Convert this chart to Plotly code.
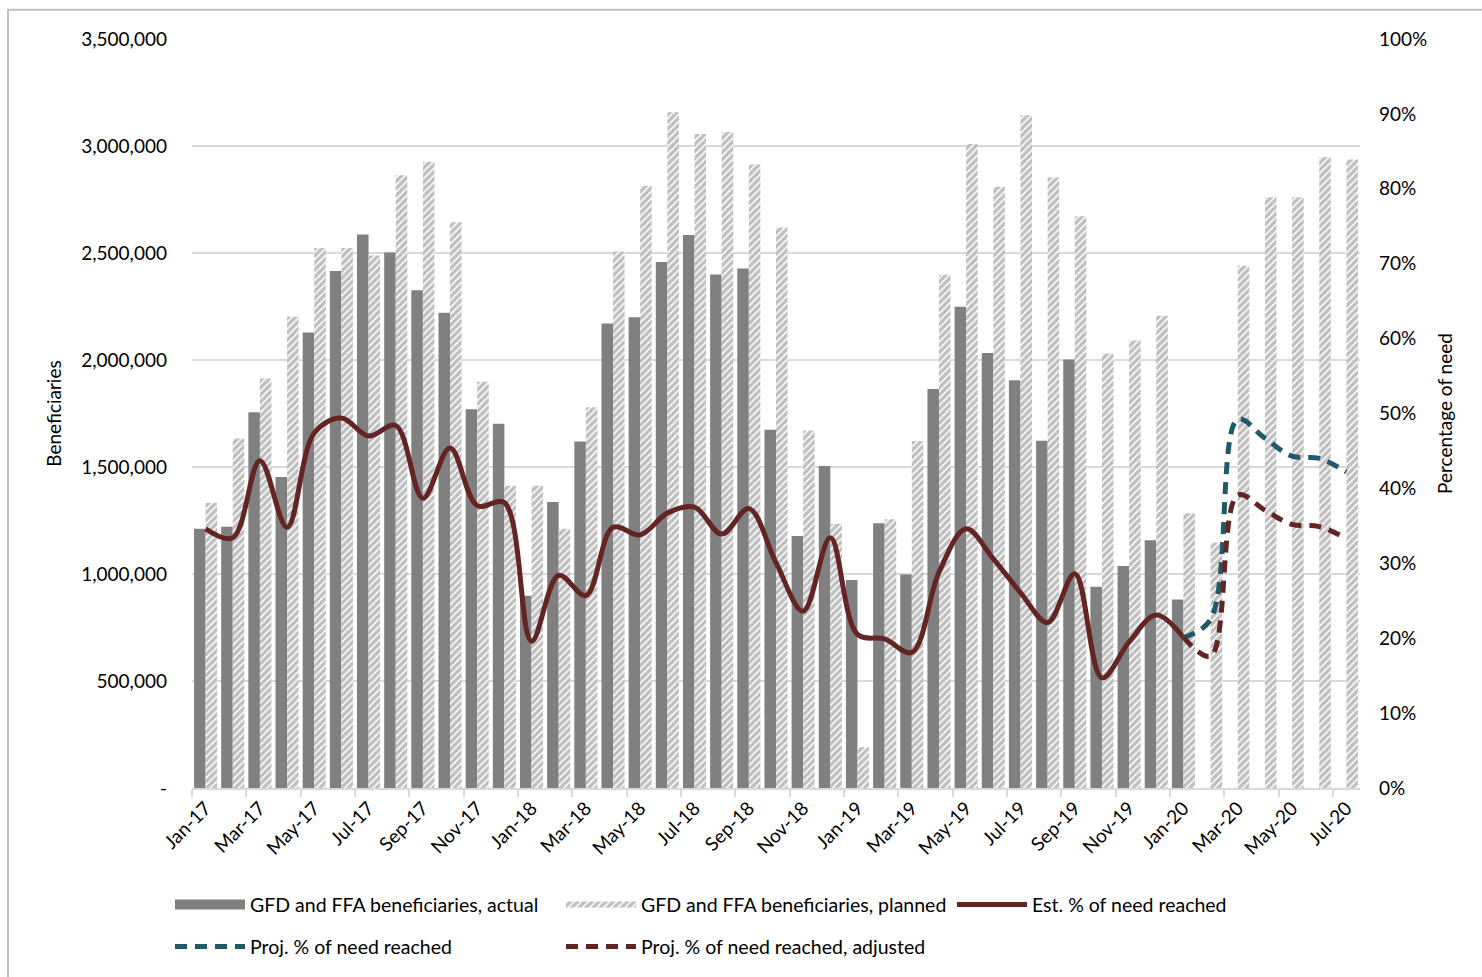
import plotly.graph_objects as go

months = ["Jan-17","Feb-17","Mar-17","Apr-17","May-17","Jun-17","Jul-17","Aug-17","Sep-17","Oct-17","Nov-17","Dec-17",
          "Jan-18","Feb-18","Mar-18","Apr-18","May-18","Jun-18","Jul-18","Aug-18","Sep-18","Oct-18","Nov-18","Dec-18",
          "Jan-19","Feb-19","Mar-19","Apr-19","May-19","Jun-19","Jul-19","Aug-19","Sep-19","Oct-19","Nov-19","Dec-19",
          "Jan-20","Feb-20","Mar-20","Apr-20","May-20","Jun-20","Jul-20"]

actual = [1212000,1221000,1756000,1453000,2128000,2416000,2586000,2502000,2326000,2221000,1770000,1702000,
          898000,1337000,1619000,2170000,2200000,2458000,2584000,2400000,2428000,1674000,1177000,1505000,
          972000,1237000,998000,1865000,2249000,2033000,1905000,1623000,2002000,940000,1037000,1158000,
          881000,None,None,None,None,None,None]

planned = [1333000,1633000,1914000,2202000,2523000,2523000,2488000,2863000,2926000,2644000,1898000,1412000,
           1412000,1212000,1779000,2507000,2814000,3158000,3056000,3065000,2914000,2619000,1670000,1235000,
           191000,1256000,1621000,2398000,3009000,2809000,3144000,2853000,2672000,2030000,2091000,2207000,
           1284000,1147000,2440000,2760000,2760000,2947000,2937000]

est_pct = [34.6,33.4,43.7,34.8,47.4,49.4,47.0,48.4,38.7,45.4,37.7,38.1,
           19.6,28.4,25.7,34.8,33.8,36.7,37.5,33.9,37.3,30.1,23.6,33.4,
           20.5,19.9,18.1,28.8,34.6,30.6,26.1,22.1,28.6,14.7,19.5,23.1,
           20.1,None,None,None,None,None,None]

proj_pct = [None]*36 + [20.1,22.5,49.2,46.7,44.3,44.0,42.2]
proj_adj_pct = [None]*36 + [20.1,17.6,39.1,37.1,35.2,34.9,33.3]

left_ticks = [0,500000,1000000,1500000,2000000,2500000,3000000,3500000]
left_labels = ["-","500,000","1,000,000","1,500,000","2,000,000","2,500,000","3,000,000","3,500,000"]

FONT = "Lato"
TXT = "#000000"
HATCH = dict(shape="/", fgcolor="#7f7f7f", bgcolor="white", size=5, solidity=0.7)


def pct(vals):
    return [None if v is None else v / 100 for v in vals]


fig = go.Figure()

# bars (legend entries drawn by proxy traces below)
fig.add_trace(go.Bar(x=months, y=actual, name="GFD and FFA beneficiaries, actual", showlegend=False,
                     marker=dict(color="#808080", line=dict(width=0))))
fig.add_trace(go.Bar(x=months, y=planned, name="GFD and FFA beneficiaries, planned", showlegend=False,
                     marker=dict(color="white", line=dict(width=0), pattern=HATCH)))

# legend proxies for bars
fig.add_trace(go.Scatter(x=[None], y=[None], mode="lines", name="GFD and FFA beneficiaries, actual",
                         line=dict(color="#808080", width=14), legend="legend"))
fig.add_trace(go.Scatter(x=[None, None, None], y=[None, None, None], mode="none", fill="toself",
                         fillcolor="white", fillpattern=HATCH,
                         name="GFD and FFA beneficiaries, planned", legend="legend"))

fig.add_trace(go.Scatter(x=months, y=pct(est_pct), name="Est. % of need reached", yaxis="y2", mode="lines",
                         line=dict(color="#632523", width=5, shape="spline", smoothing=1.0),
                         legend="legend"))
fig.add_trace(go.Scatter(x=months, y=pct(proj_pct), name="Proj. % of need reached", yaxis="y2", mode="lines",
                         line=dict(color="#215968", width=5, shape="spline", smoothing=1.0, dash="12px,8px"),
                         legend="legend2"))
fig.add_trace(go.Scatter(x=months, y=pct(proj_adj_pct), name="Proj. % of need reached, adjusted", yaxis="y2",
                         mode="lines",
                         line=dict(color="#632523", width=5, shape="spline", smoothing=1.0, dash="12px,8px"),
                         legend="legend2"))

PLOT_L, PLOT_W, PLOT_B, PLOT_H = 192, 1168, 788.3, 749
leg_x = (170 - PLOT_L) / PLOT_W
leg_common = dict(orientation="h", x=leg_x, xanchor="left", yanchor="middle",
                  entrywidth=306, entrywidthmode="pixels", itemwidth=70,
                  font=dict(family=FONT, size=19.5, color=TXT),
                  traceorder="normal", tracegroupgap=0, bgcolor="rgba(0,0,0,0)")

fig.update_layout(
    width=1482, height=977,
    margin=dict(l=192, r=122, t=39, b=189, autoexpand=False),
    paper_bgcolor="white", plot_bgcolor="white",
    font=dict(family=FONT, size=19, color=TXT),
    barmode="group", bargap=0.15, bargroupgap=0,
    showlegend=True,
    legend=dict(y=(PLOT_B - 905) / PLOT_H, **leg_common),
    legend2=dict(y=(PLOT_B - 947) / PLOT_H, **leg_common),
    xaxis=dict(type="category", tickmode="linear", tick0=0, dtick=2,
               tickson="boundaries", ticks="outside", ticklen=7, tickcolor="#d9d9d9", tickwidth=1.5,
               showline=True, linecolor="#d9d9d9", linewidth=1.5,
               showgrid=False, tickangle=-45,
               tickfont=dict(family=FONT, size=19, color=TXT)),
    yaxis=dict(range=[0, 3500000], tickvals=left_ticks, ticktext=left_labels,
               showgrid=True, gridcolor="#d9d9d9", gridwidth=1.5, zeroline=False,
               showline=False, ticks="", ticklabelstandoff=24,
               title=dict(text="Beneficiaries", standoff=14,
                          font=dict(family=FONT, size=19, color=TXT)),
               tickfont=dict(family=FONT, size=19, color=TXT)),
    yaxis2=dict(range=[0, 1], overlaying="y", side="right", tickformat=".0%",
                tickmode="linear", tick0=0, dtick=0.1,
                showgrid=False, zeroline=False, showline=False, ticks="",
                ticklabelstandoff=18,
                title=dict(text="Percentage of need", standoff=12,
                           font=dict(family=FONT, size=19, color=TXT)),
                tickfont=dict(family=FONT, size=19, color=TXT)),
    shapes=[dict(type="rect", xref="paper", yref="paper",
                 x0=(8 - PLOT_L) / PLOT_W, x1=1.3, y0=-0.5, y1=(PLOT_B - 10) / PLOT_H,
                 line=dict(color="#bfbfbf", width=2), fillcolor="rgba(0,0,0,0)", layer="below")],
)

fig.write_html("out.html")
